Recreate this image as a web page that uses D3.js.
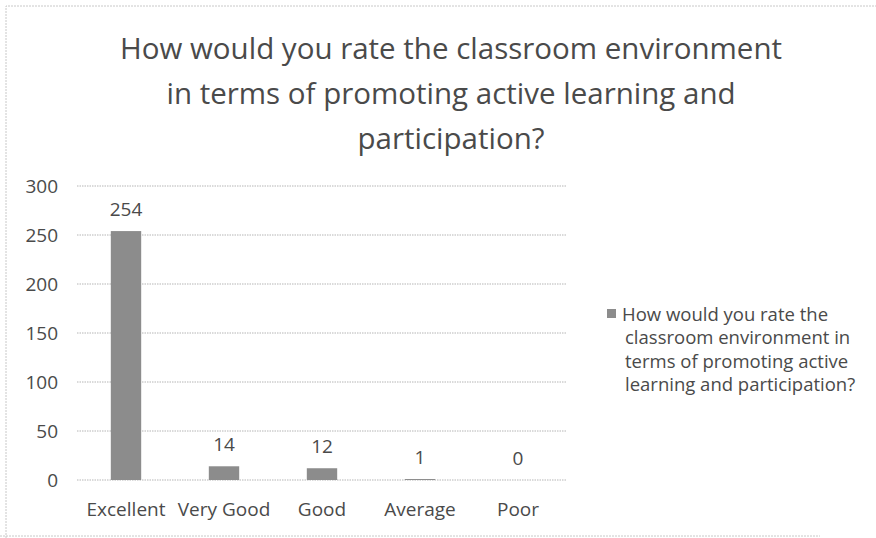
<!DOCTYPE html>
<html><head><meta charset="utf-8">
<script src="https://cdn.jsdelivr.net/npm/d3@7"></script>
<style>body{margin:0;background:#fff;} text{font-family:"Open Sans", sans-serif;}</style>
</head><body>
<svg id="c" width="876" height="538"></svg>
<script>
const categories = ["Excellent","Very Good","Good","Average","Poor"];
const values = [254,14,12,1,0];
const yTicks = [0,50,100,150,200,250,300];
const titleLines = ["How would you rate the classroom environment","in terms of promoting active learning and","participation?"];
const legendLines = ["How would you rate the","classroom environment in","terms of promoting active","learning and participation?"];

const svg = d3.select("#c");
const textColor = "#4a4a4a";
const FONT = '"Open Sans", sans-serif';
// outer border
svg.append("path").attr("d","M6,538 L6,6 L876,6 M0,536 L820,536")
  .attr("fill","none").attr("stroke","#c8c8c8").attr("stroke-dasharray","2,1");

const x = d3.scaleBand().domain(categories).range([77,567]).paddingInner(0.69).paddingOuter(0.345);
const y = d3.scaleLinear().domain([0,300]).range([480,186]);

// grid
svg.append("g").selectAll("line").data(yTicks).join("line")
  .attr("x1",77).attr("x2",567).attr("y1",d=>y(d)).attr("y2",d=>y(d))
  .attr("stroke","#b5b5b5").attr("stroke-width",1).attr("stroke-dasharray","1.5,1");

const yAxis = svg.append("g").attr("transform","translate(77,0)")
  .call(d3.axisLeft(y).tickValues(yTicks).tickSize(0).tickPadding(19));
yAxis.select(".domain").remove();
yAxis.selectAll("text").attr("font-size",19).attr("fill",textColor).style("font-family",FONT);

const xAxis = svg.append("g").attr("transform","translate(0,480)")
  .call(d3.axisBottom(x).tickSize(0).tickPadding(0));
xAxis.select(".domain").remove();
xAxis.selectAll("text").attr("font-size",19).attr("fill",textColor)
  .attr("dy",null).attr("y",36).style("font-family",FONT);

svg.append("g").selectAll("rect").data(values).join("rect")
  .attr("x",(d,i)=>x(categories[i])).attr("width",x.bandwidth())
  .attr("y",d=>y(d)).attr("height",d=>y(0)-y(d))
  .attr("fill","#8c8c8c");

svg.append("g").selectAll("text").data(values).join("text")
  .attr("x",(d,i)=>x(categories[i])+x.bandwidth()/2)
  .attr("y",d=>y(d)-15)
  .attr("text-anchor","middle").attr("font-size",19).attr("fill",textColor)
  .text(d=>d);

svg.append("g").selectAll("text").data(titleLines).join("text")
  .attr("x",451).attr("y",(d,i)=>59+i*45)
  .attr("text-anchor","middle").attr("font-size",29.5).attr("fill",textColor)
  .text(d=>d);

svg.append("rect").attr("x",607).attr("y",309).attr("width",9).attr("height",9).attr("fill","#8c8c8c");
svg.append("g").selectAll("text").data(legendLines).join("text")
  .attr("x",(d,i)=>i===0?622:625).attr("y",(d,i)=>321+i*23.4)
  .attr("font-size",18.5).attr("fill",textColor).text(d=>d);
</script>
</body></html>
